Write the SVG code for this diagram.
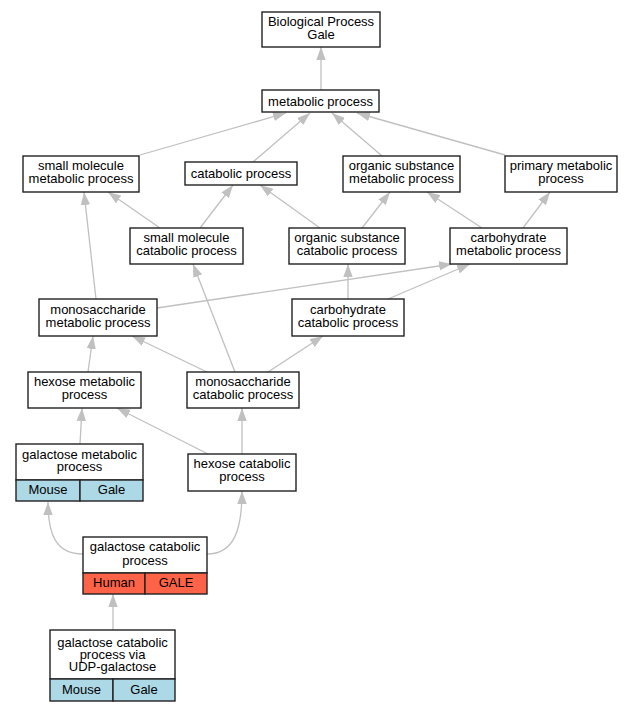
<svg xmlns="http://www.w3.org/2000/svg" width="633" height="712" viewBox="0 0 633 712">
<defs>
<marker id="arr" markerUnits="userSpaceOnUse" markerWidth="14" markerHeight="10" refX="13" refY="5" orient="auto" viewBox="0 0 14 10">
<path d="M0,0.3 L13,5 L0,9.7 z" fill="#c0c0c0"/>
</marker>
<style>
.box{fill:#fff;stroke:#222;stroke-width:1.4}
.blue{fill:#add8e6;stroke:#222;stroke-width:1.4}
.red{fill:#ff6347;stroke:#222;stroke-width:1.4}
text{font-family:"Liberation Sans",Arial,sans-serif;font-size:13px;fill:#000;text-anchor:middle}
.e{fill:none;stroke:#c0c0c0;stroke-width:1.3;marker-end:url(#arr)}
</style>
</defs>
<rect width="633" height="712" fill="#fff"/>
<g id="edges">
<path class="e" d="M321,90 L321,47"/>
<path class="e" d="M140,155 L286,113"/>
<path class="e" d="M253,162 L310,113"/>
<path class="e" d="M382,156 L332,113"/>
<path class="e" d="M505,155 L357,113"/>
<path class="e" d="M160,228 L108,192"/>
<path class="e" d="M200,228 L233,185"/>
<path class="e" d="M320,228 L260,185"/>
<path class="e" d="M362,228 L390,192"/>
<path class="e" d="M482,228 L427,192"/>
<path class="e" d="M523,228 L550,192"/>
<path class="e" d="M96,299 L84,192"/>
<path class="e" d="M157,308 L452,264"/>
<path class="e" d="M348,299 L348,264"/>
<path class="e" d="M388,299 L470,264"/>
<path class="e" d="M235,372 L193,264"/>
<path class="e" d="M207,372 L132,336"/>
<path class="e" d="M268,372 L323,336"/>
<path class="e" d="M88,372 L93,336"/>
<path class="e" d="M80,444 L82,408"/>
<path class="e" d="M208,454 L117,408"/>
<path class="e" d="M242,454 L242,408"/>
<path class="e" d="M83,554 C56,554 48,535 48,502"/>
<path class="e" d="M207,554 C234,554 242,530 242,491"/>
<path class="e" d="M113,630 L113,594"/>
</g>
<g id="n1"><rect class="box" x="262" y="12" width="118" height="35"/><text x="321" y="26">Biological Process</text><text x="321" y="39">Gale</text></g>
<g id="n2"><rect class="box" x="262" y="90" width="117" height="22"/><text x="320.5" y="105.5">metabolic process</text></g>
<g id="n3"><rect class="box" x="23" y="156" width="116" height="36"/><text x="81" y="170">small molecule</text><text x="81" y="183">metabolic process</text></g>
<g id="n4"><rect class="box" x="185" y="162" width="112" height="23"/><text x="241" y="177.5">catabolic process</text></g>
<g id="n5"><rect class="box" x="343" y="156" width="117" height="36"/><text x="401.5" y="170">organic substance</text><text x="401.5" y="183">metabolic process</text></g>
<g id="n6"><rect class="box" x="505" y="156" width="112" height="36"/><text x="561" y="170">primary metabolic</text><text x="561" y="183">process</text></g>
<g id="n7"><rect class="box" x="130" y="228" width="113" height="36"/><text x="186.5" y="242">small molecule</text><text x="186.5" y="255">catabolic process</text></g>
<g id="n8"><rect class="box" x="289" y="228" width="116" height="36"/><text x="347" y="242">organic substance</text><text x="347" y="255">catabolic process</text></g>
<g id="n9"><rect class="box" x="450" y="228" width="117" height="36"/><text x="508.5" y="242">carbohydrate</text><text x="508.5" y="255">metabolic process</text></g>
<g id="n10"><rect class="box" x="39" y="299" width="118" height="37"/><text x="98" y="313.5">monosaccharide</text><text x="98" y="326.5">metabolic process</text></g>
<g id="n11"><rect class="box" x="292" y="299" width="112" height="37"/><text x="348" y="313.5">carbohydrate</text><text x="348" y="326.5">catabolic process</text></g>
<g id="n12"><rect class="box" x="28" y="372" width="113" height="36"/><text x="84.5" y="386">hexose metabolic</text><text x="84.5" y="399">process</text></g>
<g id="n13"><rect class="box" x="187" y="372" width="112" height="36"/><text x="243" y="386">monosaccharide</text><text x="243" y="399">catabolic process</text></g>
<g id="n14"><rect class="box" x="16" y="444" width="127" height="36"/><rect class="blue" x="16" y="480" width="64" height="21"/><rect class="blue" x="80" y="480" width="63" height="21"/><text x="79.5" y="458.5">galactose metabolic</text><text x="79.5" y="471">process</text><text x="48" y="494">Mouse</text><text x="111.5" y="494">Gale</text></g>
<g id="n15"><rect class="box" x="188" y="454" width="108" height="37"/><text x="242" y="468">hexose catabolic</text><text x="242" y="481">process</text></g>
<g id="n16"><rect class="box" x="83" y="537" width="124" height="36"/><rect class="red" x="83" y="573" width="62" height="21"/><rect class="red" x="145" y="573" width="62" height="21"/><text x="145" y="551">galactose catabolic</text><text x="145" y="564.5">process</text><text x="114" y="587">Human</text><text x="176" y="587">GALE</text></g>
<g id="n17"><rect class="box" x="50" y="630" width="125" height="49"/><rect class="blue" x="50" y="679" width="63" height="22"/><rect class="blue" x="113" y="679" width="62" height="22"/><text x="112.5" y="646.5">galactose catabolic</text><text x="112.5" y="658.5">process via</text><text x="112.5" y="670.5">UDP-galactose</text><text x="81.5" y="694">Mouse</text><text x="144" y="694">Gale</text></g>
</svg>
